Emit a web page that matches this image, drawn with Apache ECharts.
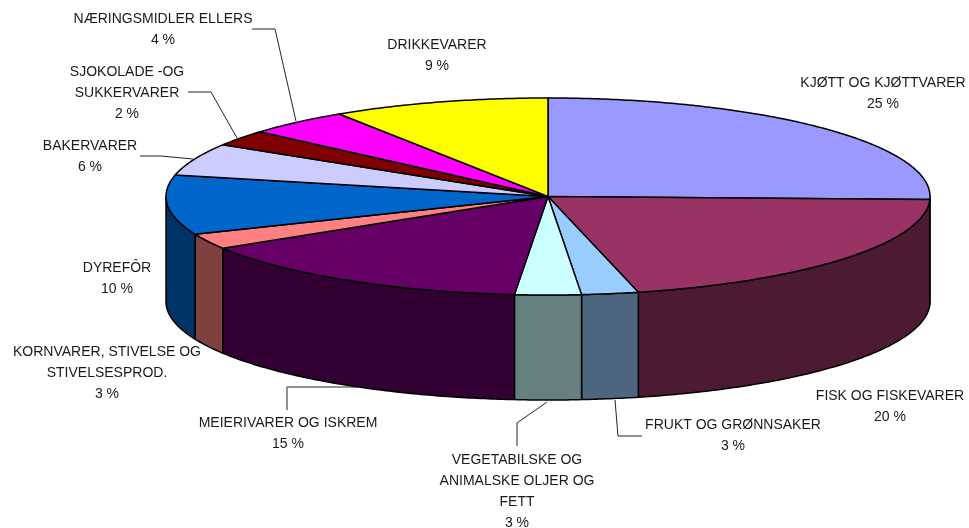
<!DOCTYPE html>
<html>
<head>
<meta charset="utf-8">
<title>Varegrupper</title>
<style>
  html, body { margin: 0; padding: 0; background: #fff; }
  #myChart { width: 969px; height: 528px; }
</style>
<script src="https://cdn.jsdelivr.net/npm/echarts@6/dist/echarts.min.js"></script>
</head>
<body>
<div id="myChart"></div>
<script>
// slice names, the rounded percentages printed in the labels, and the
// slightly more exact shares read off the slice boundaries
var categories = ['KJØTT OG KJØTTVARER', 'FISK OG FISKEVARER', 'FRUKT OG GRØNNSAKER',
  'VEGETABILSKE OG\nANIMALSKE OLJER OG\nFETT', 'MEIERIVARER OG ISKREM',
  'KORNVARER, STIVELSE OG\nSTIVELSESPROD.', 'DYREFÔR', 'BAKERVARER',
  'SJOKOLADE -OG\nSUKKERVARER', 'NÆRINGSMIDLER ELLERS', 'DRIKKEVARER']
var percents = [25, 20, 3, 3, 15, 3, 10, 6, 2, 4, 9]
var shares = [25.5, 20.7, 2.4, 2.8, 14.8, 2.55, 9.75, 5.3, 2.6, 4.4, 9.2]

var colors = ['#9999FF', '#993366', '#99CCFF', '#CCFFFF', '#660066', '#FF8080',
  '#0066CC', '#CCCCFF', '#800000', '#FF00FF', '#FFFF00']
var sideColors = ['#4D4D80', '#4D1A33', '#4D6680', '#668080', '#330033', '#804040',
  '#003366', '#666680', '#400000', '#800080', '#808000']

// label layout: centre x and y of the first text line, one entry per slice
var labelPos = [[883, 83], [890, 396], [733, 425], [517, 460], [288, 423], [107, 352],
  [117, 268], [90, 146], [127, 72], [163, 19], [437, 45]]

var leaderLines = [
  [[252, 29], [275, 29], [296, 121]],
  [[188, 92], [211, 92], [237, 138]],
  [[140, 156], [161, 156], [193, 159]],
  [[287, 410], [287, 387], [358, 387]],
  [[517, 446], [517, 423], [547, 402]],
  [[615, 400], [618, 436], [642, 436]]
]

var DEPTH = 105
var LINE_H = 21
var FONT = '14px "Liberation Sans", Arial, sans-serif'

var total = shares.reduce(function (a, b) { return a + b }, 0)
var starts = []
var run = 0
shares.forEach(function (v) {
  starts.push(run / total * Math.PI * 2)
  run += v
})

// angle runs clockwise from 12 o'clock; the hidden axes squash the unit circle into the ellipse
function rimPoint(api, a, drop) {
  var p = api.coord([Math.sin(a), Math.cos(a)])
  return [p[0], p[1] + (drop || 0)]
}

function arcPoints(api, from, to, drop) {
  var pts = []
  var steps = Math.max(2, Math.ceil((to - from) / 0.01))
  for (var i = 0; i <= steps; i++) {
    pts.push(rimPoint(api, from + (to - from) * i / steps, drop))
  }
  return pts
}

function renderSlice(params, api) {
  var i = api.value(0)
  var from = starts[i]
  var to = i + 1 < starts.length ? starts[i + 1] : Math.PI * 2
  var lineStyle = { stroke: '#000', lineWidth: 1.5, lineJoin: 'round' }
  var children = []

  // the wall only shows on the front half of the rim
  var wallFrom = Math.max(from, Math.PI / 2)
  var wallTo = Math.min(to, Math.PI * 1.5)
  if (wallTo > wallFrom) {
    var wall = arcPoints(api, wallFrom, wallTo, 0)
      .concat(arcPoints(api, wallFrom, wallTo, DEPTH).reverse())
    children.push({
      type: 'polygon',
      z2: 1,
      shape: { points: wall },
      style: Object.assign({ fill: sideColors[i] }, lineStyle)
    })
  }

  var top = [api.coord([0, 0])].concat(arcPoints(api, from, to, 0))
  children.push({
    type: 'polygon',
    z2: 2,
    shape: { points: top },
    style: Object.assign({ fill: colors[i] }, lineStyle)
  })
  return { type: 'group', children: children }
}

var labelElements = categories.map(function (name, i) {
  return {
    type: 'text',
    x: labelPos[i][0],
    y: labelPos[i][1] - LINE_H / 2,
    style: {
      text: name + '\n' + percents[i] + ' %',
      font: FONT,
      fill: '#1a1a1a',
      align: 'center',
      verticalAlign: 'top',
      lineHeight: LINE_H
    }
  }
})

var leaderElements = leaderLines.map(function (pts) {
  return {
    type: 'polyline',
    shape: { points: pts },
    style: { stroke: '#222', lineWidth: 1, fill: null }
  }
})

var chart = echarts.init(document.getElementById('myChart'))
chart.setOption({
  animation: false,
  backgroundColor: '#fff',
  grid: { left: 166, top: 98, width: 764, height: 197 },
  xAxis: { type: 'value', min: -1, max: 1, show: false },
  yAxis: { type: 'value', min: -1, max: 1, show: false },
  graphic: labelElements.concat(leaderElements),
  series: [{
    type: 'custom',
    coordinateSystem: 'cartesian2d',
    clip: false,
    silent: true,
    encode: { x: 1, y: 2 },
    data: shares.map(function (v, i) { return [i, 0, 0, v] }),
    renderItem: renderSlice
  }]
})
</script>
</body>
</html>
